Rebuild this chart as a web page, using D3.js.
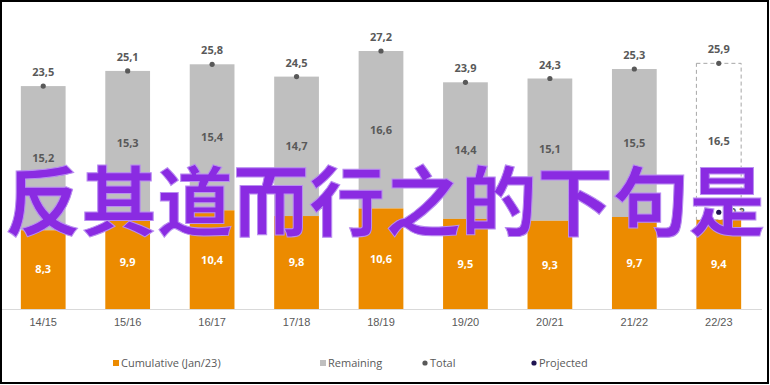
<!DOCTYPE html>
<html>
<head>
<meta charset="utf-8">
<script src="https://cdn.jsdelivr.net/npm/d3@7"></script>
<style>
  body { margin: 0; background: #fff; }
  svg { display: block; font-family: "Open Sans", "Noto Sans", sans-serif; }
</style>
</head>
<body>
<div id="vis"></div>
<script>
// season data
var seasons = ["14/15", "15/16", "16/17", "17/18", "18/19", "19/20", "20/21", "21/22", "22/23"];
var cumulative = [8.3, 9.9, 10.4, 9.8, 10.6, 9.5, 9.3, 9.7, 9.4];
var remaining = [15.2, 15.3, 15.4, 14.7, 16.6, 14.4, 15.1, 15.5, 16.5];
var totals = [23.5, 25.1, 25.8, 24.5, 27.2, 23.9, 24.3, 25.3, 25.9];
var projected = [null, null, null, null, null, null, null, null, 10.2];
var legendLabels = ["Cumulative (Jan/23)", "Remaining", "Total", "Projected"];

var width = 770, height = 385;
var baseY = 309;

var fmt = function (v) { return v.toFixed(1).replace(".", ","); };

var svg = d3.select("#vis")
    .append("svg")
    .attr("width", width)
    .attr("height", height);

var x = d3.scaleBand()
    .domain(seasons)
    .range([1, 761])
    .paddingInner(0.47)
    .paddingOuter(0.235);

var y = d3.scaleLinear()
    .domain([0, 27.2])
    .range([baseY, 51]);

var rows = seasons.map(function (s, i) {
    return { season: s, cum: cumulative[i], rem: remaining[i], total: totals[i], proj: projected[i], last: i === seasons.length - 1 };
});

// remaining (grey) part
svg.selectAll(".rem")
    .data(rows)
    .enter()
    .append("rect")
    .attr("class", "rem")
    .attr("x", function (d) { return x(d.season); })
    .attr("width", x.bandwidth())
    .attr("y", function (d) { return y(d.total); })
    .attr("height", function (d) { return y(d.cum) - y(d.total); })
    .attr("fill", function (d) { return d.last ? "#fff" : "#bfbfbf"; })
    .attr("stroke", function (d) { return d.last ? "#a6a6a6" : "none"; })
    .attr("stroke-dasharray", "4,3");

// cumulative (orange) part
svg.selectAll(".cum")
    .data(rows)
    .enter()
    .append("rect")
    .attr("class", "cum")
    .attr("x", function (d) { return x(d.season); })
    .attr("width", x.bandwidth())
    .attr("y", function (d) { return y(d.cum); })
    .attr("height", function (d) { return baseY - y(d.cum); })
    .attr("fill", "#ec8b00");

// axis
var axis = svg.append("g")
    .attr("transform", "translate(0," + baseY + ")")
    .call(d3.axisBottom(x).tickSize(0).tickPadding(9));
axis.select(".domain").attr("stroke", "#d9d9d9").attr("d", "M0,0.5H762");
axis.selectAll("text")
    .attr("fill", "#595959")
    .style("font-size", "11px");

// labels
svg.selectAll(".cumlab")
    .data(rows)
    .enter()
    .append("text")
    .attr("x", function (d) { return x(d.season) + x.bandwidth() / 2; })
    .attr("y", function (d) { return (y(d.cum) + baseY) / 2; })
    .attr("dy", "0.35em")
    .attr("text-anchor", "middle")
    .attr("fill", "#fff")
    .style("font-size", "11px")
    .style("font-weight", "bold")
    .text(function (d) { return fmt(d.cum); });

svg.selectAll(".remlab")
    .data(rows)
    .enter()
    .append("text")
    .attr("x", function (d) { return x(d.season) + x.bandwidth() / 2; })
    .attr("y", function (d) { return (y(d.cum) + y(d.total)) / 2; })
    .attr("dy", "0.35em")
    .attr("text-anchor", "middle")
    .attr("fill", "#595959")
    .style("font-size", "11px")
    .style("font-weight", "bold")
    .text(function (d) { return fmt(d.rem); });

// total dots
svg.selectAll(".tot")
    .data(rows)
    .enter()
    .append("circle")
    .attr("cx", function (d) { return x(d.season) + x.bandwidth() / 2; })
    .attr("cy", function (d) { return y(d.total); })
    .attr("r", 2.6)
    .attr("fill", "#595959");

svg.selectAll(".totlab")
    .data(rows)
    .enter()
    .append("text")
    .attr("x", function (d) { return x(d.season) + x.bandwidth() / 2; })
    .attr("y", function (d) { return y(d.total) - 10; })
    .attr("text-anchor", "middle")
    .attr("fill", "#595959")
    .style("font-size", "11px")
    .style("font-weight", "bold")
    .text(function (d) { return fmt(d.total); });

// projected dot
var projRows = rows.filter(function (d) { return d.proj != null; });
svg.selectAll(".proj")
    .data(projRows)
    .enter()
    .append("circle")
    .attr("cx", function (d) { return x(d.season) + x.bandwidth() / 2; })
    .attr("cy", function (d) { return y(d.proj); })
    .attr("r", 2.6)
    .attr("fill", "#1f1452");

svg.selectAll(".projlab")
    .data(projRows)
    .enter()
    .append("text")
    .attr("x", function (d) { return x(d.season) + x.bandwidth() / 2 + 6; })
    .attr("y", function (d) { return y(d.proj); })
    .attr("dy", "0.35em")
    .attr("fill", "#595959")
    .style("font-size", "10px")
    .style("font-weight", "bold")
    .text(function (d) { return fmt(d.proj); });

// legend
var legendX = [113, 320, 422, 531];
var legend = svg.selectAll(".leg")
    .data(legendLabels)
    .enter()
    .append("g")
    .attr("transform", function (d, i) { return "translate(" + legendX[i] + ",363)"; });

legend.each(function (d, i) {
    var g = d3.select(this);
    if (i < 2) {
        g.append("rect").attr("x", 0).attr("y", -3).attr("width", 6).attr("height", 6)
            .attr("fill", i === 0 ? "#ec8b00" : "#bfbfbf");
    } else {
        g.append("circle").attr("cx", 3).attr("cy", 0).attr("r", 2.6)
            .attr("fill", i === 2 ? "#595959" : "#1f1452");
    }
    g.append("text").attr("x", 8).attr("dy", "0.35em")
        .attr("fill", "#595959")
        .style("font-size", "11px")
        .text(d);
});

// overlay caption
svg.append("text")
    .attr("x", 385)
    .attr("y", 203)
    .attr("dy", "0.36em")
    .attr("text-anchor", "middle")
    .attr("fill", "#8a2be2")
    .attr("stroke", "#b98ef0")
    .attr("stroke-width", 1)
    .style("font-family", "'Noto Sans CJK SC', sans-serif")
    .style("font-size", "76px")
    .style("font-weight", "700")
    .text("反其道而行之的下句是");

// frame
svg.append("rect")
    .attr("x", 1).attr("y", 1)
    .attr("width", 767).attr("height", 382)
    .attr("fill", "none")
    .attr("stroke", "#000")
    .attr("stroke-width", 2);
</script>
</body>
</html>
